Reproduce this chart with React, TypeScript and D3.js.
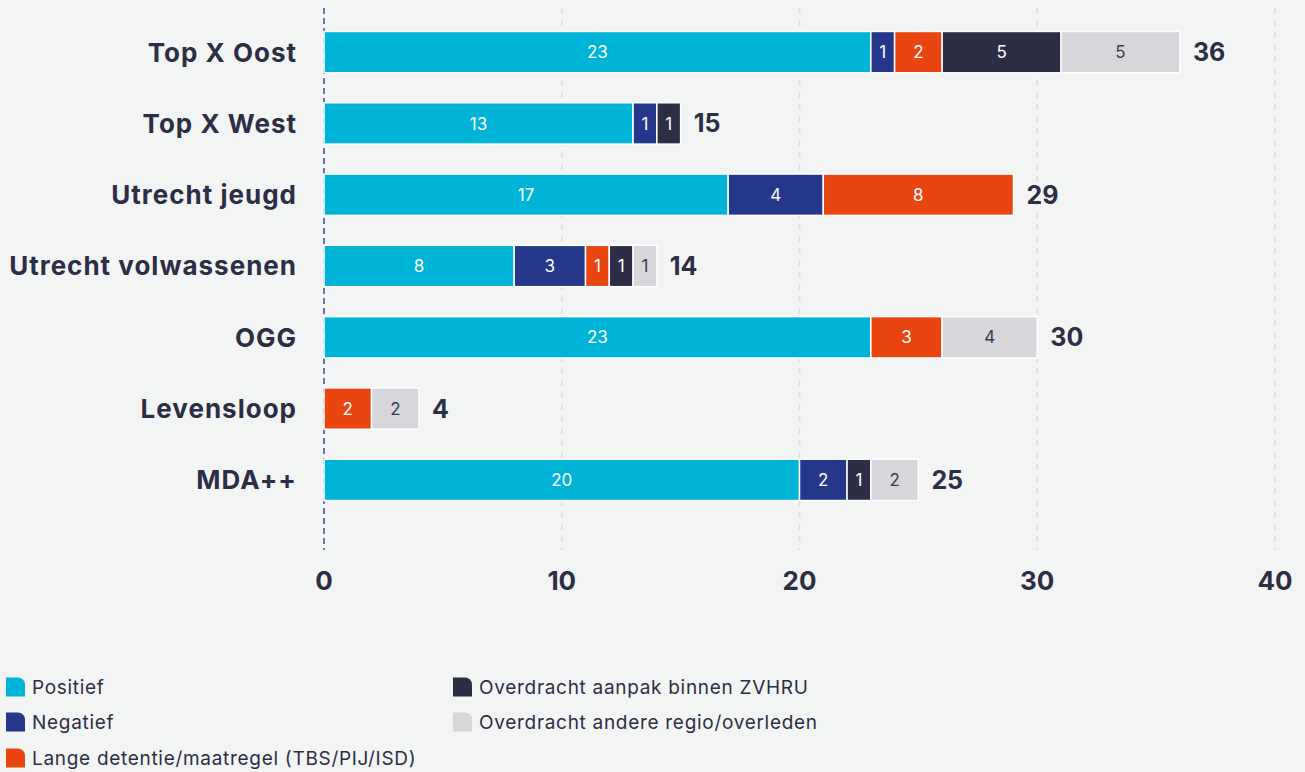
import React from "react";
import * as d3 from "d3";

const categories = ["Top X Oost", "Top X West", "Utrecht jeugd", "Utrecht volwassenen", "OGG", "Levensloop", "MDA++"];
const seriesNames = [
  "Positief",
  "Negatief",
  "Lange detentie/maatregel (TBS/PIJ/ISD)",
  "Overdracht aanpak binnen ZVHRU",
  "Overdracht andere regio/overleden",
];
const positief = [23, 13, 17, 8, 23, 0, 20];
const negatief = [1, 1, 4, 3, 0, 0, 2];
const langeDetentie = [2, 0, 8, 1, 3, 2, 0];
const overdrachtZVHRU = [5, 1, 0, 1, 0, 0, 1];
const overdrachtAndere = [5, 0, 0, 1, 4, 2, 2];
const xTicks = [0, 10, 20, 30, 40];

const colors = ["#00b4d8", "#25378a", "#e84510", "#2d2e45", "#d6d6db"];
const labelColors = ["#ffffff", "#ffffff", "#ffffff", "#ffffff", "#3a3b52"];
const textColor = "#2d2e45";
const font = "Inter, 'Open Sans', sans-serif";

export default function App() {
  const W = 1305, H = 772;
  const x = d3.scaleLinear().domain([0, 40]).range([324, 1275]);
  const y = d3.scaleBand<string>().domain(categories).range([16.5, 515.5]).paddingInner(0.42).paddingOuter(0.21);
  const data = categories.map((c, i) => ({
    cat: c,
    vals: [positief[i], negatief[i], langeDetentie[i], overdrachtZVHRU[i], overdrachtAndere[i]],
  }));
  const stack = d3.stack<any>().keys([0, 1, 2, 3, 4].map(String)).value((d: any, k: string) => d.vals[+k]);
  const stacked = stack(data);

  const legendPos = [
    [6, 687], [6, 722], [6, 758], [453, 687], [453, 722],
  ];

  return (
    <svg width={W} height={H} style={{ position: "absolute", left: 0, top: 0, background: "#f3f5f4" }}>
      <rect width={W} height={H} fill="#f3f5f4" />
      {xTicks.filter((t) => t > 0).map((t) => (
        <line key={t} x1={x(t)} x2={x(t)} y1={8} y2={550} stroke="#dcdedf" strokeWidth={1.5} strokeDasharray="6,6" />
      ))}
      <line x1={x(0)} x2={x(0)} y1={8} y2={550} stroke="#3b4aa8" strokeWidth={1.5} strokeDasharray="6,4" />
      {stacked.map((s, si) =>
        s.map((d, i) => {
          const v = d[1] - d[0];
          if (v <= 0) return null;
          const x0 = x(d[0]), x1 = x(d[1]);
          const yy = y(categories[i])!;
          const bh = y.bandwidth();
          return (
            <g key={si + "-" + i}>
              <rect x={x0} y={yy} width={x1 - x0} height={bh} fill={colors[si]} stroke="#ffffff" strokeWidth={1.5} />
              <text x={(x0 + x1) / 2} y={yy + bh / 2} dy="0.36em" textAnchor="middle" fontFamily={font} fontSize={17} fill={labelColors[si]}>
                {v}
              </text>
            </g>
          );
        })
      )}
      {data.map((d, i) => {
        const total = d3.sum(d.vals);
        const yc = y(d.cat)! + y.bandwidth() / 2;
        return (
          <g key={d.cat}>
            <text x={297} y={yc} dy="0.36em" textAnchor="end" fontFamily={font} fontWeight={700} fontSize={26} letterSpacing={1} fill={textColor}>
              {d.cat}
            </text>
            <text x={x(total) + 13} y={yc} dy="0.36em" fontFamily={font} fontWeight={700} fontSize={25} fill={textColor}>
              {total}
            </text>
          </g>
        );
      })}
      {xTicks.map((t) => (
        <text key={t} x={x(t)} y={581} dy="0.36em" textAnchor="middle" fontFamily={font} fontWeight={700} fontSize={26} fill={textColor}>
          {t}
        </text>
      ))}
      {seriesNames.map((n, i) => {
        const [lx, ly] = legendPos[i];
        const s = 19;
        const r = 7;
        const top = ly - s / 2;
        const path = `M${lx},${top} H${lx + s - r} A${r},${r} 0 0 1 ${lx + s},${top + r} V${top + s} H${lx} Z`;
        return (
          <g key={n}>
            <path d={path} fill={colors[i]} />
            <text x={lx + 26} y={ly} dy="0.36em" fontFamily={font} fontSize={19} letterSpacing={0.7} fill={textColor}>
              {n}
            </text>
          </g>
        );
      })}
    </svg>
  );
}
